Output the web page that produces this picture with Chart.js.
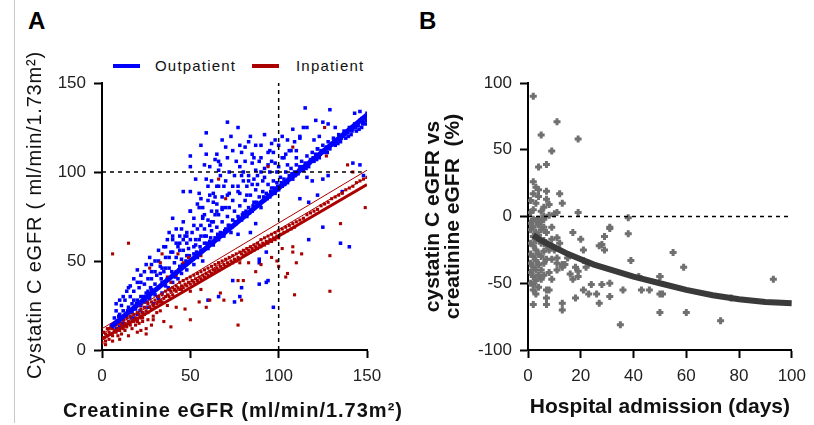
<!DOCTYPE html>
<html>
<head>
<meta charset="utf-8">
<script src="https://cdn.jsdelivr.net/npm/chart.js@4"></script>
<style>
  body { margin: 0; background: #fff; font-family: 'Liberation Sans', Arial, sans-serif; }
  #wrap { position: relative; width: 814px; height: 425px; }
  canvas { position: absolute; top: 0; }
  .panel { position: absolute; font-weight: bold; font-size: 24px; line-height: 24px; color: #000; }
  .leg-line { position: absolute; height: 4px; width: 27px; }
  .leg-text { position: absolute; font-size: 15px; line-height: 16px; letter-spacing: 1.2px; color: #111; }
  .axis-title { position: absolute; font-size: 20px; line-height: 24px; color: #111; text-align: center; white-space: nowrap; }
</style>
</head>
<body>
<div id="wrap">
  <div style="position:absolute;left:14px;top:0;height:423px;border-left:1px solid #c8c8c8"></div>
  <div class="panel" style="left:28px;top:9px">A</div>
  <div class="panel" style="left:419px;top:9px">B</div>
  <div class="leg-line" style="left:113px;top:64px;background:#0000ff"></div>
  <div class="leg-text" style="left:155px;top:58px">Outpatient</div>
  <div class="leg-line" style="left:252px;top:64px;background:#aa0000"></div>
  <div class="leg-text" style="left:296px;top:58px">Inpatient</div>
  <canvas id="chartA" width="410" height="425" style="left:0"></canvas>
  <canvas id="chartB" width="404" height="425" style="left:410px"></canvas>
  <div class="axis-title" style="left:33px;width:400px;top:398px;font-weight:bold;letter-spacing:1px">Creatinine eGFR (ml/min/1.73m²)</div>
  <div class="axis-title" style="left:-166px;width:400px;top:203px;letter-spacing:0.8px;transform:rotate(-90deg)">Cystatin C eGFR ( ml/min/1.73m²)</div>
</div>
<script>
// panel A: creatinine eGFR (x) vs cystatin C eGFR (y)
var outpatient = [
  [6,14],[7,18],[8,12],[8,22],[9,16],[10,20],[10,13],[11,25],[12,17],[12,22],[13,14],[13,28],[14,19],[15,24],[15,16],[16,30],
  [17,21],[17,26],[18,18],[18,33],[19,23],[20,28],[20,20],[21,35],[22,25],[22,30],[23,21],[24,37],[24,27],[25,32],[26,24],[26,40],
  [27,29],[28,34],[28,44],[29,26],[30,37],[30,31],[31,42],[32,29],[32,35],[33,47],[34,38],[34,32],[35,44],[36,36],[36,52],[37,40],
  [38,34],[38,46],[39,55],[40,42],[40,38],[41,49],[42,44],[43,40],[43,58],[44,47],[45,51],[45,43],[46,62],[47,48],[48,53],[48,45],
  [49,57],[50,50],[51,66],[52,54],[52,48],[53,59],[54,52],[55,62],[56,56],[56,70],[57,50],[58,60],[59,64],[60,57],[60,73],[61,61],
  [62,67],[63,59],[64,63],[64,76],[65,69],[66,62],[67,66],[68,72],[68,80],[69,64],[70,68],[71,75],[72,70],[73,66],[74,73],[74,84],
  [75,78],[76,71],[77,75],[78,81],[79,73],[80,77],[81,84],[82,75],[83,80],[84,87],[85,78],[86,83],[87,90],[88,81],[89,86],[90,80],
  [91,89],[92,84],[93,88],[94,93],[95,86],[96,91],[97,95],[98,88],[99,94],[100,90],[101,97],[102,92],[103,96],[104,100],[105,94],
  [106,98],[107,102],[108,96],[109,100],[110,104],[111,99],[112,103],[113,106],[114,101],[115,105],[116,109],[117,103],[118,107],
  [119,111],[120,106],[121,110],[122,113],[123,108],[124,112],[125,115],[126,111],[127,114],[128,117],[129,113],[130,116],[131,119],
  [132,115],[133,118],[134,121],[135,117],[136,120],[137,123],[138,119],[139,122],[140,125],[141,121],[142,124],[143,127],[144,123],
  [145,126],[146,129],[147,125],[148,128],[149,131],[150,133],[149,127],[147,130],
  [9.5,19],[11.5,15],[14.5,22],[16.5,18],[19.5,26],[21.5,22],[23.5,30],[25.5,27],[27.5,35],[29.5,33],[31.5,30],[33.5,40],[35.5,38],
  [37.5,35],[39.5,44],[41.5,41],[43.5,45],[45.5,48],[47.5,50],[49.5,53],[51.5,51],[53.5,55],[55.5,58],[57.5,56],[59.5,60],[61.5,63],
  [63.5,61],[65.5,65],[67.5,64],[69.5,67],[71.5,70],[73.5,69],[75.5,72],[77.5,74],[79.5,76],[81.5,78],[83.5,77],[85.5,81],[87.5,83],
  [89.5,82],[91.5,86],[93.5,85],[95.5,89],[97.5,91],[99.5,92],[101.5,94],[103.5,93],[105.5,96],[107.5,99],[109.5,98],[111.5,101],
  [113.5,103],[115.5,102],[117.5,105],[119.5,108],[121.5,107],[123.5,110],[125.5,112],[127.5,111],[129.5,115],[131.5,117],
  [133.5,116],[135.5,119],[137.5,121],[139.5,120],[141.5,123],[143.5,125],[145.5,124],[147.5,127],[149.5,129],
  [8,26],[10,28],[12,30],[14,33],[16,36],[18,28],[20,38],[22,42],[24,44],[26,33],[28,48],[30,44],[32,50],[34,46],[36,46],[38,52],
  [40,55],[42,52],[44,64],[46,56],[48,60],[50,62],[54,68],[56,64],[58,76],[62,72],[66,76],[70,80],[74,92],[78,88],[82,92],[86,96],
  [90,100],[94,104],[52,74],[55,88],[60,92],[64,86],[67,104],[69,92],[72,100],[76,106],[79,98],[81,114],[86,108],[91,95],[96,116],
  [99,100],[102,120],[57,80],[61,70],[65,92],[71,108],[74,112],[42,60],[47,64],[52,58],[58,64],[63,72],
  [15,35],[18,40],[20,45],[22,38],[25,48],[27,52],[28,40],[30,50],[32,56],[33,43],[35,58],[37,62],[40,64],[42,68],[44,56],[46,72],
  [48,66],[50,78],[52,70],[53,62],[55,80],[57,74],[58,68],[60,84],[62,78],[63,88],[65,82],[66,92],[68,86],[70,95],[72,88],[75,98],
  [77,92],[80,100],[83,95],[85,105],[88,98],[90,108],[92,102],[95,112],[98,105],[100,115],[103,108],[105,118],[110,112],[112,120],
  [116,125],[120,118],[125,128],[36,58],[40,62],[44,60],[48,64],[38,66],[45,68],
  [71,128],[59,122],[73,120],[68,118],[56,115],[70,114],[50,109],[59,110],[65,110],[64,107],[66,106],[58,104],[61,103],[50,103],
  [66,101],[67,98],[53,96],[59,96],[62,95],[46,89],[50,89],[56,85],[54,82],[61,87],[63,83],[65,78],[68,79],[71,87],[72,80],[50,78],
  [40,74],[57,75],[115,136],[129,135],[121,129],[114,125],[92,121],[77,125],[83,117],[87,115],[108,124],[109,117],[112,119],
  [104,110],[106,112],[94,111],[97,111],[79,111],[81,106],[78,103],[89,106],[87,101],[123,120],[122,113],[128,127],[132,125],
  [143,133],[146,134],[80,95],[83,98],[85,110],[88,93],[90,115],[92,97],[95,100],[98,118],[78,115],[84,120],[96,106],[100,103],
  [102,108],[105,104],[107,112],[110,108],
  [116,97],[119,95],[125,96],[128,98],[142,105],[146,104],[148,98],[112,85],[117,83],[122,87],[136,89],[77,89],[82,87],[85,93],
  [117,62],[135,60],[140,58],[125,69],[94,39],[93,38],[97,24],[89,37],[79,35],[89,51],[89,49],[77,65],[84,66],[87,71],[93,55],
  [60,28],[66,30],[75,27],[78,30],[74,39]
];
var inpatient = [
  [0,4],[1,7],[1,10],[2,5],[2,9],[3,8],[3,12],[4,6],[4,10],[5,9],[5,13],[6,8],[6,12],[7,11],[7,15],[8,10],[8,14],[9,12],[10,11],
  [10,15],[11,14],[12,12],[12,17],[13,15],[14,13],[14,18],[15,16],[16,14],[16,19],[17,17],[18,16],[18,20],[19,18],[20,17],[20,21],
  [21,20],[22,18],[22,23],[23,21],[24,20],[24,24],[25,22],[26,21],[26,26],[27,24],[28,23],[28,27],[29,25],[30,24],[30,28],[31,26],
  [32,27],[32,30],[33,28],[34,27],[34,31],[35,29],[36,30],[36,33],[37,31],[38,30],[38,34],[39,33],[40,31],[40,35],[41,34],[42,33],
  [42,36],[43,35],[44,34],[44,38],[45,36],[46,35],[46,39],[47,37],[48,36],[48,40],[49,38],[50,37],[50,41],[51,39],[52,38],[52,42],
  [53,40],[54,39],[54,43],[55,41],[56,40],[56,44],[57,42],[58,41],[58,45],[59,43],[60,42],[60,46],[61,44],[62,43],[62,47],[63,45],
  [64,44],[64,48],[65,46],[66,45],[66,49],[67,47],[68,46],[68,50],[69,48],[70,47],[70,51],[71,49],[72,48],[72,52],[73,50],[74,49],
  [74,53],[75,51],[76,50],[76,54],[77,52],[78,51],[78,55],[79,54],[80,53],[80,56],[81,55],[82,54],[82,57],[83,56],[84,55],[84,58],
  [85,57],[86,56],[86,59],[87,58],[88,57],[88,60],[89,59],[90,58],[90,62],[91,60],[92,59],[92,63],[93,61],[94,60],[94,64],[95,62],
  [96,61],[96,65],[97,63],[98,62],[98,66],[99,64],[100,63],[100,67],[101,65],[102,68],[103,66],[104,69],[105,67],[106,70],[107,68],
  [108,71],[109,69],[110,72],[112,73],[114,74],[116,76],[118,77],[120,78],[122,79],[124,81],[126,82],[128,83],[130,85],[132,86],
  [134,87],[136,88],[138,90],[140,91],[142,92],[144,94],[146,95],[148,96],[150,97],
  [10,6],[15,8],[20,10],[25,12],[28,14],[8,15],[12,19],[16,21],[20,16],[23,18],[2,3],[4,12],[6,5],[9,8],[11,9],[13,11],[17,12],
  [19,14],[21,15],[23,16],[26,17],[29,19],[31,21],[33,22],
  [135,71],[129,53],[129,33],[109,31],[108,55],[110,49],[104,41],[113,54],[108,58],[99,50],[100,47],[105,43],[83,49],[87,44],
  [90,48],[77,39],[80,39],[79,28],[77,14],[78,49],[102,57],[96,52],[15,60],[6,54],[34,54],[33,49],[43,54],[46,49],[27,46],
  [37,41],[39,38],[45,34],[50,33],[33,27],[37,25],[42,24],[47,23],[50,17],[55,27],[59,24],[61,28],[67,32],[69,28],[56,34],
  [29,17],[35,16],[39,13],[22,11],[25,9],[49,52],[56,53],[66,49],[64,45],[42,42],[70,85],[127,109],[126,125],[108,114],[94,103],
  [139,104],[142,100],[66,96],[149,80]
];
var outFitX = [5, 150], outFitY = [13, 132];
var inFitX = [0, 150], inFitY = [6, 93], inBand1Y = [9, 97], inBand2Y = [12, 101];
var cutH = [[0, 100], [147, 100]];
var cutV = [[100, 0], [100, 150]];

// panel B: hospital admission days (x) vs % difference (y)
var admission = [
  [2,90],[11,71],[5,61],[19,58],[9,49],[4,37],[7,39],[2,26],[3,22],[4,20],[2,17],[4,15],[7,19],[12,17],[7,13],[13,10],[8,9],
  [5,4],[11,3],[19,3],[3,10],[6,7],[2,5],[1,12],[1,3],[6,0],[8,1],[10,2],[38,-1],[31,-8],[38,-13],[17,-12],[20,-17],[27,-22],
  [29,-25],[28,-21],[9,-17],[12,-20],[39,-33],[42,-45],[43,-55],[50,-45],[55,-27],[59,-38],[50,-58],[50,-72],[60,-72],[73,-78],
  [35,-81],[77,-61],[93,-47],[31,-50],[31,-60],[27,-65],[26,-58],[23,-58],[21,-55],[24,-51],[28,-51],[18,-61],[13,-65],[13,-70],
  [7,-61],[7,-66],[2,-66],[4,-53],[2,-51],[16,-43],[17,-47],[18,-38],[13,-36],[11,-40],[9,-47],[8,-55],[21,-33],[23,-35],[15,-31],
  [36,-55],[46,-55],[29,-15],[31,-9],[21,-25],[22,-38],[11,-16],[11,-31],[11,-35],[19,-41],[19,-45],[14,-36],[13,-38],
  [1,-5],[1,-10],[1,-20],[1,-28],[1,-35],[1,-42],[1,-50],[2,-2],[2,-8],[2,-15],[2,-22],[2,-30],[2,-38],[2,-45],[2,-55],[3,-3],
  [3,-12],[3,-18],[3,-25],[3,-33],[3,-40],[3,-48],[3,-58],[4,-6],[4,-14],[4,-28],[4,-36],[4,-44],[5,-4],[5,-10],[5,-20],[5,-30],
  [5,-40],[5,-47],[6,-8],[6,-18],[6,-26],[6,-35],[6,-44],[7,-12],[7,-22],[7,-32],[7,-55],[8,-25],[8,-42],[4,-2],[6,-2],[9,-8],
  [10,-25],[9,-32],[51,-58],[50,-45]
];
var decayDays = [2, 5, 10, 15, 20, 25, 30, 40, 50, 60, 70, 80, 90, 100];
var decayPct = [-14, -18, -23, -28, -32, -36, -39, -45, -50, -55, -59, -62, -64, -65];
var zeroLine = [[0, 0], [100, 0]];

Chart.defaults.font.family = "'Liberation Sans', Arial, sans-serif";
Chart.defaults.color = '#222';

const pts = arr => arr.map(p => ({ x: p[0], y: p[1] }));
const xy = (xs, ys) => xs.map((x, i) => ({ x: x, y: ys[i] }));

function axis(min, max, step, title, titleFont, titlePad, fit) {
    return {
        type: 'linear', min: min, max: max,
        ticks: { stepSize: step, font: { size: 17 }, color: '#222', padding: 8 },
        grid: { drawOnChartArea: false, drawTicks: true, tickLength: 8, tickWidth: 2, tickColor: '#000' },
        border: { display: true, color: '#000', width: 2 },
        title: { display: !!title, text: title, font: titleFont, color: '#111', padding: titlePad },
        afterFit: fit
    };
}

const lineDs = (data, color, width, dash) => ({
    data: data, showLine: true, pointRadius: 0, borderColor: color, borderWidth: width,
    borderDash: dash || [], fill: false
});

// axis titles of panel A are html (they run wider than the plot area)
new Chart(document.getElementById('chartA'), {
    type: 'scatter',
    data: {
        datasets: [
            lineDs(pts(cutH), '#000', 1.5, [4, 4]),
            lineDs(pts(cutV), '#000', 1.5, [4, 4]),
            lineDs(xy(outFitX, outFitY), '#0000ff', 5),
            lineDs(xy(inFitX, inFitY), '#aa0000', 3),
            lineDs(xy(inFitX, inBand1Y), '#aa0000', 1),
            lineDs(xy(inFitX, inBand2Y), '#aa0000', 1),
            { data: pts(inpatient), pointStyle: 'rect', pointRadius: 2.2, borderWidth: 0, backgroundColor: '#aa0000' },
            { data: pts(outpatient), pointStyle: 'rect', pointRadius: 2.5, borderWidth: 0, backgroundColor: '#0000ff' }
        ]
    },
    options: {
        responsive: false, animation: false,
        layout: { padding: { left: 0, right: 43, top: 83, bottom: 0 } },
        plugins: { legend: { display: false }, tooltip: { enabled: false } },
        scales: {
            x: axis(0, 150, 50, '', {}, {}, s => { s.height = 75; }),
            y: axis(0, 150, 50, '', {}, {}, s => { s.width = 102; })
        }
    }
});

new Chart(document.getElementById('chartB'), {
    type: 'scatter',
    data: {
        datasets: [
            lineDs(pts(zeroLine), '#000', 1.5, [4, 4]),
            lineDs(xy(decayDays, decayPct), '#3a3a3a', 6),
            { data: pts(admission), pointStyle: 'cross', pointRadius: 3.5, borderWidth: 3, borderColor: '#707070', backgroundColor: '#707070' }
        ]
    },
    options: {
        responsive: false, animation: false,
        layout: { padding: { left: 0, right: 20, top: 83, bottom: 0 } },
        plugins: { legend: { display: false }, tooltip: { enabled: false } },
        scales: {
            x: axis(0, 100, 20, 'Hospital admission (days)', { size: 21, weight: 'bold' }, { top: 0, bottom: 5 },
                s => { s.height = 75; }),
            y: axis(-100, 100, 50, ['cystatin C eGFR vs', 'creatinine eGFR  (%)'], { size: 21, weight: 'bold', lineHeight: 0.95 },
                { top: 13, bottom: 0 }, s => { s.width = 118; })
        }
    }
});
</script>
</body>
</html>
